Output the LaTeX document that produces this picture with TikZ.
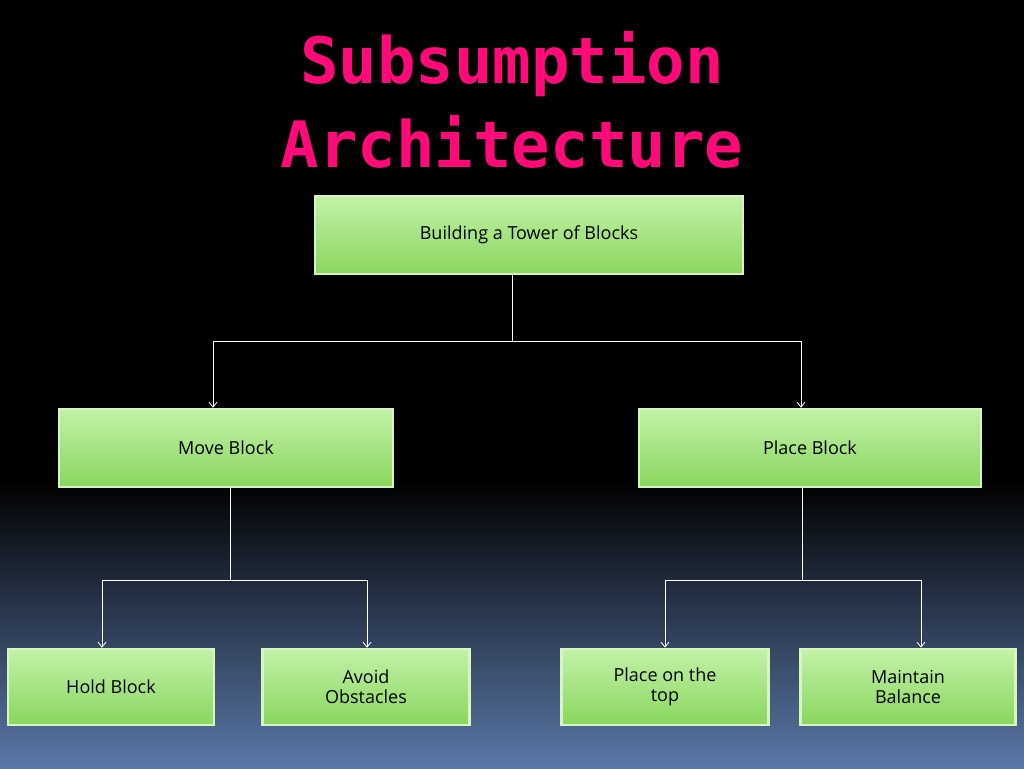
\documentclass[tikz,border=0pt]{standalone}
\usepackage{fontspec}
\setmainfont{Open Sans}
\newfontfamily\titlefont{DejaVu Sans Mono}
\usetikzlibrary{arrows.meta}
\definecolor{pinkT}{HTML}{FF0A78}
\definecolor{bgB}{HTML}{5A78A8}
\definecolor{gTop}{HTML}{C2F2A8}
\definecolor{gBot}{HTML}{8AD65E}
\definecolor{glow}{HTML}{D8F5C0}
\begin{document}
\begin{tikzpicture}[x=1pt,y=-1pt,
  box/.style={draw=glow, line width=2.5pt, top color=gTop, bottom color=gBot, font=\fontsize{18}{20}\selectfont, align=center, inner sep=0pt},
  con/.style={white, line width=0.8pt},
  arr/.style={con, -{Straight Barb[length=5pt,width=8pt]}}]
\useasboundingbox (0,0) rectangle (1024,768);
\fill[black] (0,0) rectangle (1024,481);
\shade[top color=black, bottom color=bgB] (0,480) rectangle (1024,768);
\node[pinkT, font=\titlefont\bfseries\fontsize{64}{84}\selectfont, align=center] (title) at (512,100) {Subsumption\\Architecture};
\node[box, minimum width=428, minimum height=78] (top) at (529,235) {Building a Tower of Blocks};
\node[box, minimum width=334, minimum height=78] (move) at (226,448) {Move Block};
\node[box, minimum width=342, minimum height=78] (place) at (810,448) {Place Block};
\node[box, minimum width=206, minimum height=76] (hold) at (111,687) {Hold Block};
\node[box, minimum width=207, minimum height=76] (avoid) at (366,687) {Avoid\\Obstacles};
\node[box, minimum width=207, minimum height=76] (ontop) at (665,687) {Place on the\\top};
\node[box, minimum width=215, minimum height=76] (bal) at (908,687) {Maintain\\Balance};
\coordinate (j1) at (512,341);
\coordinate (j2) at (230,580);
\coordinate (j3) at (802,580);
\draw[con] (top.south -| j1) -- (j1);
\draw[arr] (j1) -| ([xshift=-13pt]move.north);
\draw[arr] (j1) -| ([xshift=-9pt]place.north);
\draw[con] (move.south -| j2) -- (j2);
\draw[arr] (j2) -| ([xshift=-9pt]hold.north);
\draw[arr] (j2) -| ([xshift=1pt]avoid.north);
\draw[con] (place.south -| j3) -- (j3);
\draw[arr] (j3) -| (ontop.north);
\draw[arr] (j3) -| ([xshift=13pt]bal.north);
\end{tikzpicture}
\end{document}
